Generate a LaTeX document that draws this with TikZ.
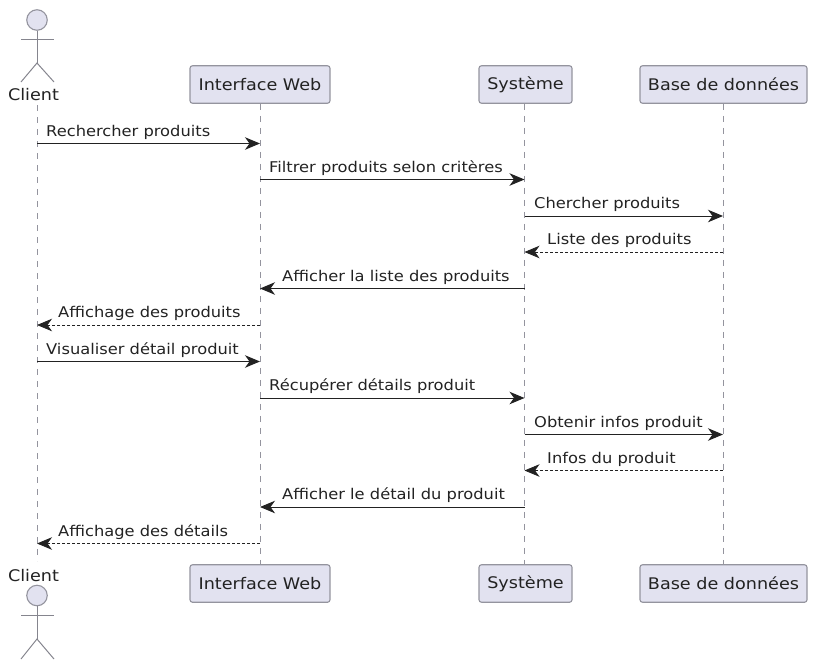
\documentclass[tikz,border=0pt]{standalone}
\usepackage{fontspec}
\usepackage{xcolor}
\setmainfont[FakeStretch=1.1]{DejaVu Sans}
\usetikzlibrary{arrows.meta}
\definecolor{boxfill}{HTML}{E2E2F0}
\definecolor{boxline}{HTML}{94949E}
\definecolor{inkdark}{HTML}{222222}
\tikzset{
  part/.style={draw=boxline,fill=boxfill,rounded corners=2.5pt,line width=1.1pt,text=inkdark,
    minimum height=37.5pt,inner sep=0pt,font=\fontsize{16}{18}\selectfont},
  lifeline/.style={draw=boxline,line width=0.8pt,dash pattern=on 6pt off 6pt},
  actorline/.style={draw=boxline!90!black,line width=1pt},
  msg/.style={draw=inkdark,line width=1pt,-{Stealth[length=15pt,width=12.5pt,inset=4.5pt]}},
  reply/.style={draw=inkdark,line width=0.8pt,densely dashed,-{Stealth[length=15pt,width=12.5pt,inset=4.5pt]}},
  lbl/.style={anchor=base west,inner sep=0pt,text=inkdark,font=\fontsize{14.8}{18}\selectfont},
  actorname/.style={anchor=base,inner sep=0pt,text=inkdark,font=\fontsize{16}{18}\selectfont}
}
\begin{document}
\begin{tikzpicture}[x=1pt,y=-1pt]
\useasboundingbox (0,0) rectangle (827,659);

% top row
\node[part,minimum width=140pt] (webTop) at (260,84.5) {Interface Web};
\node[part,minimum width=93pt] (sysTop) at (525.5,84.5) {Système};
\node[part,minimum width=167pt] (dbTop) at (723.5,84.5) {Base de données};
\node[actorname] (clientTop) at (33.5,100) {Client};
\coordinate (clientStart) at (37,105);

% bottom row
\node[part,minimum width=140pt] (webBot) at (260,583.5) {Interface Web};
\node[part,minimum width=93pt] (sysBot) at (525.5,583.5) {Système};
\node[part,minimum width=167pt] (dbBot) at (723.5,583.5) {Base de données};
\node[actorname] (clientBot) at (33.5,581) {Client};
\coordinate (clientEnd) at (37,561);

% lifelines
\coordinate (webX) at (260,0);
\coordinate (sysX) at (524.5,0);
\coordinate (dbX) at (723,0);
\draw[lifeline] (clientStart) -- (clientEnd);
\draw[lifeline] (webX |- webTop.south) -- (webX |- webBot.north);
\draw[lifeline] (sysX |- sysTop.south) -- (sysX |- sysBot.north);
\draw[lifeline] (dbX |- dbTop.south) -- (dbX |- dbBot.north);

% actor on top
\node[circle,draw=boxline,fill=boxfill,line width=1.1pt,minimum size=20.5pt,inner sep=0pt] (headTop) at (37,20) {};
\coordinate (hipTop) at (37,63);
\draw[actorline] (headTop.south) -- (hipTop);
\draw[actorline] (21,39.5) -- (54,39.5);
\draw[actorline] (21,82) -- (hipTop) -- (54,82);

% actor below
\node[circle,draw=boxline,fill=boxfill,line width=1.1pt,minimum size=20.5pt,inner sep=0pt] (headBot) at (37,595.5) {};
\coordinate (hipBot) at (37,639);
\draw[actorline] (headBot.south) -- (hipBot);
\draw[actorline] (21,615.5) -- (54,615.5);
\draw[actorline] (21,659) -- (hipBot) -- (54,659);

% rows
\coordinate (r1) at (0,143.5);
\coordinate (r2) at (0,179.5);
\coordinate (r3) at (0,216);
\coordinate (r4) at (0,252);
\coordinate (r5) at (0,288.5);
\coordinate (r6) at (0,325);
\coordinate (r7) at (0,361.5);
\coordinate (r8) at (0,398);
\coordinate (r9) at (0,434.5);
\coordinate (r10) at (0,470.5);
\coordinate (r11) at (0,507);
\coordinate (r12) at (0,543.5);

\draw[msg] (clientStart |- r1) -- (webX |- r1);
\draw[msg] (webX |- r2) -- (sysX |- r2);
\draw[msg] (sysX |- r3) -- (dbX |- r3);
\draw[reply] (dbX |- r4) -- (sysX |- r4);
\draw[msg] (sysX |- r5) -- (webX |- r5);
\draw[reply] (webX |- r6) -- (clientStart |- r6);
\draw[msg] (clientStart |- r7) -- (webX |- r7);
\draw[msg] (webX |- r8) -- (sysX |- r8);
\draw[msg] (sysX |- r9) -- (dbX |- r9);
\draw[reply] (dbX |- r10) -- (sysX |- r10);
\draw[msg] (sysX |- r11) -- (webX |- r11);
\draw[reply] (webX |- r12) -- (clientStart |- r12);

\node[lbl] (m1) at (46,136) {Rechercher produits};
\node[lbl] (m2) at (269,172) {Filtrer produits selon critères};
\node[lbl] (m3) at (534,208.5) {Chercher produits};
\node[lbl] (m4) at (547,244.5) {Liste des produits};
\node[lbl] (m5) at (282,281) {Afficher la liste des produits};
\node[lbl] (m6) at (58,317.5) {Affichage des produits};
\node[lbl] (m7) at (46,354) {Visualiser détail produit};
\node[lbl] (m8) at (269,390.5) {Récupérer détails produit};
\node[lbl] (m9) at (534,427) {Obtenir infos produit};
\node[lbl] (m10) at (547,463) {Infos du produit};
\node[lbl] (m11) at (282,499.5) {Afficher le détail du produit};
\node[lbl] (m12) at (58,536) {Affichage des détails};
\end{tikzpicture}
\end{document}
